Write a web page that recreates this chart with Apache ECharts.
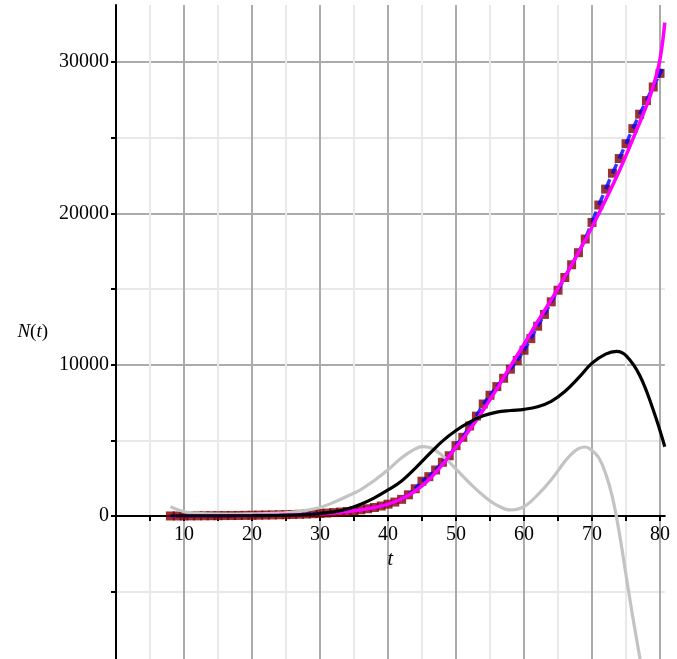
<!DOCTYPE html>
<html>
<head>
<meta charset="utf-8">
<title>N(t)</title>
<script src="https://cdn.jsdelivr.net/npm/echarts@6/dist/echarts.min.js"></script>
<style>
  html, body { margin: 0; padding: 0; background: #fff; }
  #main { width: 677px; height: 659px; }
</style>
</head>
<body>
<div id="main"></div>
<script>
// Observed counts N(t), one per day t = 8 … 80
const obsT = [
  8, 9, 10, 11, 12, 13, 14, 15, 16, 17, 18, 19, 20, 21, 22, 23, 24, 25, 26, 27,
  28, 29, 30, 31, 32, 33, 34, 35, 36, 37, 38, 39, 40, 41, 42, 43, 44, 45, 46, 47,
  48, 49, 50, 51, 52, 53, 54, 55, 56, 57, 58, 59, 60, 61, 62, 63, 64, 65, 66, 67,
  68, 69, 70, 71, 72, 73, 74, 75, 76, 77, 78, 79, 80
];
const obsN = [
  2, 3, 5, 8, 10, 14, 18, 22, 27, 30, 35, 40, 48, 55, 62, 70, 80, 90, 102, 115,
  130, 150, 170, 195, 225, 260, 300, 350, 410, 480, 560, 660, 780, 920, 1100, 1400, 1800, 2300, 2600, 3040,
  3550, 3980, 4650, 5200, 5950, 6600, 7400, 7980, 8550, 9100, 9700, 10280, 10950, 11720, 12540, 13320, 14150, 14920, 15760, 16600,
  17400, 18300, 19400, 20550, 21600, 22650, 23620, 24600, 25600, 26550, 27450, 28350, 29250
];

// Fitted growth curve (magenta)
const fitT = [8, 15, 20, 25, 30, 33, 35, 38, 40, 42, 44, 46, 48, 50, 52, 54, 56, 58, 60, 62, 64, 66, 68, 70, 72, 74, 76, 78, 79, 80, 80.7];
const fitN = [5, 10, 25, 60, 140, 240, 340, 560, 780, 1130, 1650, 2400, 3400, 4550, 5700, 7000, 8400, 9900, 11350, 12850, 14300, 15800, 17400, 19100, 20900, 22800, 24900, 27100, 28400, 30200, 32600];

// Polynomial approximation (black)
const polyT = [8, 10, 12, 14, 16, 18, 20, 22, 24, 26, 28, 30, 32, 34, 36, 38, 40, 42, 44, 46, 48, 50, 52, 54, 56, 58, 60, 62, 64, 66, 68, 70, 72, 73.6, 75, 77, 79, 80.7];
const polyN = [15, 12, 10, 10, 10, 15, 20, 28, 40, 58, 95, 160, 270, 460, 780, 1200, 1720, 2320, 3150, 4070, 4950, 5650, 6200, 6620, 6860, 6970, 7050, 7220, 7580, 8230, 9120, 10100, 10700, 10880, 10600, 9300, 7000, 4580];

// Oscillating approximation (light grey)
const oscT = [8, 10, 12, 14, 16, 18, 20, 22, 24, 26, 28, 30, 32, 34, 36, 38, 40, 42, 44, 45, 46, 48, 50, 52, 54, 56, 58, 60, 62, 64, 66, 67, 68, 69, 70, 71, 72, 73, 74, 75, 76, 77, 77.5];
const oscN = [620, 280, 170, 140, 130, 130, 140, 155, 190, 250, 370, 560, 900, 1300, 1750, 2350, 3050, 3850, 4430, 4580, 4540, 3980, 3100, 2180, 1350, 720, 400, 620, 1400, 2400, 3600, 4100, 4450, 4560, 4330, 3850, 2800, 1250, -1100, -3900, -6700, -9300, -10700];

// Axis ticks, labels and grid positions
const xTickValues = [5, 10, 15, 20, 25, 30, 35, 40, 45, 50, 55, 60, 65, 70, 75, 80];
const xLabelValues = [10, 20, 30, 40, 50, 60, 70, 80];
const yTickValues = [-5000, 0, 5000, 10000, 15000, 20000, 25000, 30000];
const yLabelValues = [0, 10000, 20000, 30000];

const SERIF = '"Liberation Serif", "DejaVu Serif", serif';
const MINOR_GRID = '#e8e8e8';
const MAJOR_GRID = '#ababab';

function pairs(xs, ys) {
  return xs.map((x, i) => [x, ys[i]]);
}

const chart = echarts.init(document.getElementById('main'), null, { renderer: 'canvas' });

const GRID_TOP = 5;
const GRID_HEIGHT = 654;

const option = {
  animation: false,
  backgroundColor: '#ffffff',
  grid: {
    left: 116, top: GRID_TOP, width: 548.8, height: GRID_HEIGHT,
    outerBoundsMode: 'none'
  },
  xAxis: {
    type: 'value',
    position: 'bottom',
    min: 0, max: 80.7,
    name: 't',
    nameLocation: 'middle',
    nameGap: 29,
    nameTextStyle: { fontFamily: SERIF, fontSize: 20, fontStyle: 'italic', color: '#000' },
    axisLine: { show: true, onZero: false, lineStyle: { color: '#000', width: 2 } },
    axisTick: { show: true, customValues: xTickValues, length: 5, inside: false, lineStyle: { color: '#000', width: 2 } },
    axisLabel: {
      show: true, customValues: xLabelValues, margin: 9, hideOverlap: false,
      fontFamily: SERIF, fontSize: 20, color: '#000',
      formatter: v => String(v)
    },
    splitLine: { show: true, customValues: xTickValues, lineStyle: { color: [MINOR_GRID, MAJOR_GRID], width: 2 } },
    minorTick: { show: false },
    minorSplitLine: { show: false }
  },
  yAxis: {
    type: 'value',
    min: -9450, max: 33767,
    name: '{i|N}{r|(}{i|t}{r|)}',
    nameLocation: 'middle',
    nameRotate: 0,
    nameGap: 68,
    nameTextStyle: {
      color: '#000',
      rich: {
        i: { fontFamily: SERIF, fontSize: 19, fontStyle: 'italic', color: '#000' },
        r: { fontFamily: SERIF, fontSize: 19, color: '#000' }
      }
    },
    axisLine: { show: true, onZero: true, lineStyle: { color: '#000', width: 2 } },
    axisTick: { show: true, customValues: yTickValues, length: 5, inside: false, lineStyle: { color: '#000', width: 2 } },
    axisLabel: {
      show: true, customValues: yLabelValues, margin: 7,
      fontFamily: SERIF, fontSize: 20, color: '#000',
      formatter: v => String(v)
    },
    splitLine: { show: true, customValues: yTickValues, lineStyle: { color: [MINOR_GRID, MAJOR_GRID], width: 2 } },
    minorTick: { show: false },
    minorSplitLine: { show: false }
  },
  series: [
    {
      name: 'oscillating', type: 'line', data: pairs(oscT, oscN),
      smooth: 0.4, showSymbol: false, clip: true,
      lineStyle: { color: '#c3c3c3', width: 3.2 }
    },
    {
      name: 'observed', type: 'scatter', data: pairs(obsT, obsN),
      symbol: 'rect', symbolSize: [9, 9],
      itemStyle: { color: '#7f0000' }
    },
    {
      name: 'fit', type: 'line', data: pairs(fitT, fitN),
      smooth: 0.4, showSymbol: false, clip: true,
      lineStyle: { color: '#ff00ff', width: 3.5 }
    },
    {
      id: 'observedDash', name: 'observed line', type: 'scatter', data: pairs(obsT, obsN),
      symbol: 'rect', symbolSize: [3, 3],
      itemStyle: { color: '#0000ff' }
    },
    {
      name: 'polynomial', type: 'line', data: pairs(polyT, polyN),
      smooth: 0.4, showSymbol: false, clip: true,
      lineStyle: { color: '#000000', width: 3.2 }
    }
  ]
};

chart.setOption(option);

// Move the horizontal axis up onto the N = 0 level.
const zeroY = chart.convertToPixel({ gridIndex: 0 }, [0, 0])[1];
const gridBottom = GRID_TOP + GRID_HEIGHT;

// Dotted blue polyline through the observations: one dash per segment,
// starting at each point and oriented towards the next one.
const px = obsT.map((t, i) => chart.convertToPixel({ gridIndex: 0 }, [t, obsN[i]]));
const dashItems = obsT.map((t, i) => {
  const last = i === obsT.length - 1;
  const j = last ? i - 1 : i;
  const dx = px[j + 1][0] - px[j][0];
  const dy = px[j + 1][1] - px[j][1];
  const len = Math.hypot(dx, dy) || 1;
  const L = len * 0.62;
  const off = last ? 0 : L / 2;
  return {
    value: [t, obsN[i]],
    symbolSize: [L, 3.5],
    symbolRotate: Math.atan2(-dy, dx) * 180 / Math.PI,
    symbolOffset: [dx / len * off, dy / len * off]
  };
});
chart.setOption({
  xAxis: { offset: zeroY - gridBottom },
  series: [{ id: 'observedDash', data: dashItems }]
});
</script>
</body>
</html>
